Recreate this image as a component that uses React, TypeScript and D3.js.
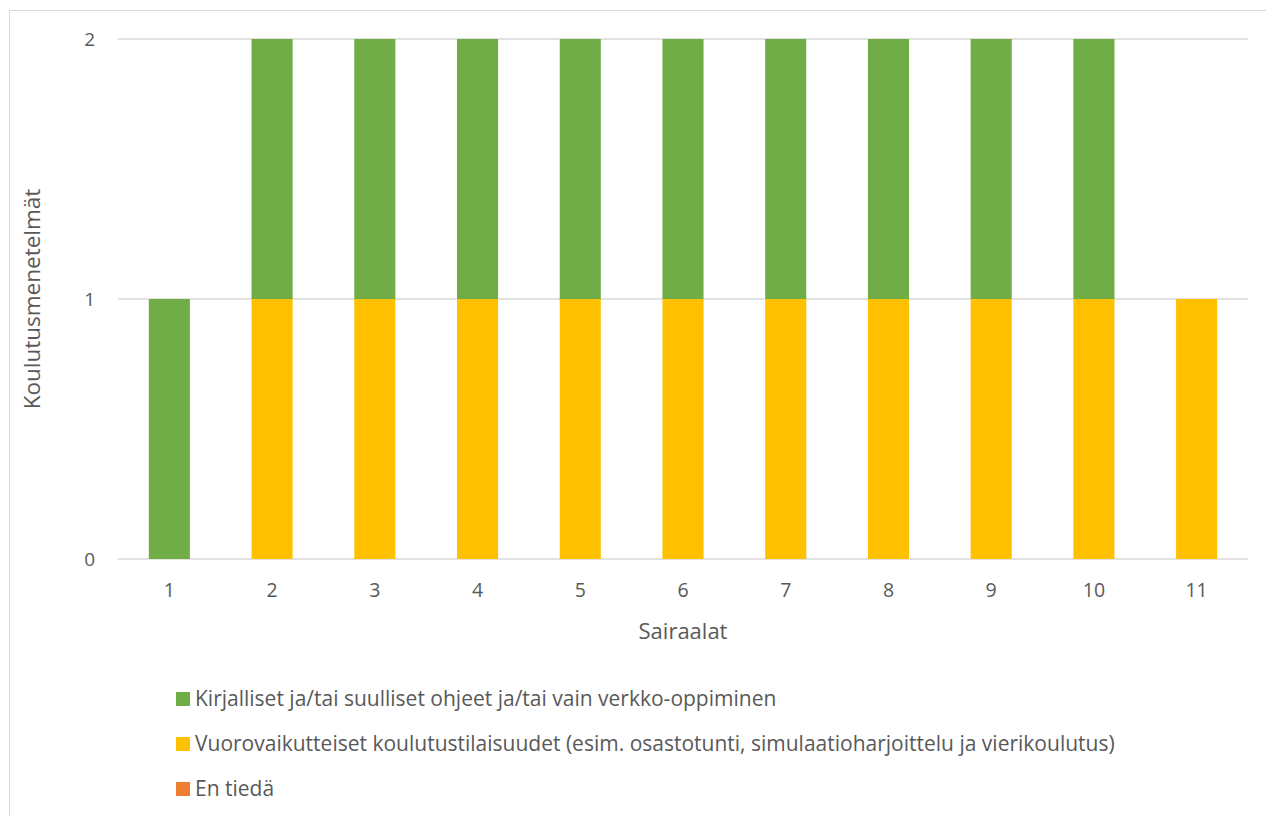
import * as d3 from "d3";

const categories = ["1", "2", "3", "4", "5", "6", "7", "8", "9", "10", "11"];
const seriesNames = [
  "Kirjalliset ja/tai suulliset ohjeet ja/tai vain verkko-oppiminen",
  "Vuorovaikutteiset koulutustilaisuudet (esim. osastotunti, simulaatioharjoittelu ja vierikoulutus)",
  "En tiedä",
];
const kirjalliset = [1, 1, 1, 1, 1, 1, 1, 1, 1, 1, 0];
const vuorovaikutteiset = [0, 1, 1, 1, 1, 1, 1, 1, 1, 1, 1];
const enTieda = [0, 0, 0, 0, 0, 0, 0, 0, 0, 0, 0];
const yTicks = [0, 1, 2];
const colors = ["#70AD47", "#FFC000", "#ED7D31"];

const W = 1266;
const H = 816;
const M = { left: 118, right: 18, top: 39, bottom: 257 };
const FONT = "'Open Sans', sans-serif";
const TEXT = "#595959";

export default function App() {
  const plotW = W - M.left - M.right;
  const plotH = H - M.top - M.bottom;

  const x = d3.scaleBand().domain(categories).range([0, plotW]).paddingInner(0.6).paddingOuter(0.3);
  const y = d3.scaleLinear().domain([0, 2]).range([plotH, 0]);

  const rows = categories.map((c, i) => ({
    cat: c,
    v: vuorovaikutteiset[i],
    k: kirjalliset[i],
    e: enTieda[i],
  }));
  // yellow at the bottom, green above, orange on top
  const stack = d3.stack<any>().keys(["v", "k", "e"])(rows);
  const colorOf: Record<string, string> = { k: colors[0], v: colors[1], e: colors[2] };

  return (
    <svg width={W} height={H} style={{ position: "absolute", left: 0, top: 0 }} fontFamily={FONT}>
      <rect x={0} y={0} width={W} height={H} fill="#fff" />
      <rect x={9.5} y={10.5} width={W + 10} height={H + 10} fill="none" stroke="#d9d9d9" strokeWidth={1} />
      <g transform={`translate(${M.left},${M.top})`}>
        {yTicks.map((t) => (
          <g key={t}>
            <line x1={0} x2={plotW} y1={y(t)} y2={y(t)} stroke="#d9d9d9" strokeWidth={1.5} />
            <text x={-23} y={y(t)} dy="0.35em" textAnchor="end" fontSize={19} fill={TEXT}>
              {t}
            </text>
          </g>
        ))}
        {stack.map((s) => (
          <g key={s.key} fill={colorOf[s.key]}>
            {s.map((d, i) =>
              d[1] - d[0] > 0 ? (
                <rect
                  key={i}
                  x={x(categories[i])}
                  y={y(d[1])}
                  width={x.bandwidth()}
                  height={y(d[0]) - y(d[1])}
                />
              ) : null
            )}
          </g>
        ))}
        {categories.map((c) => (
          <text key={c} x={(x(c) ?? 0) + x.bandwidth() / 2} y={plotH + 38} textAnchor="middle" fontSize={19.5} fill={TEXT}>
            {c}
          </text>
        ))}
        <text x={plotW / 2} y={plotH + 80} textAnchor="middle" fontSize={22} fill={TEXT}>
          Sairaalat
        </text>
        <text
          transform={`translate(${-78},${plotH / 2}) rotate(-90)`}
          textAnchor="middle"
          fontSize={22.5}
          fill={TEXT}
        >
          Koulutusmenetelmät
        </text>
      </g>
      {seriesNames.map((n, i) => (
        <g key={n} transform={`translate(176,${699 + i * 45})`}>
          <rect x={0} y={-7} width={14} height={14} fill={colors[i]} />
          <text x={19} y={0} dy="0.35em" fontSize={21} fill={TEXT}>
            {n}
          </text>
        </g>
      ))}
    </svg>
  );
}
